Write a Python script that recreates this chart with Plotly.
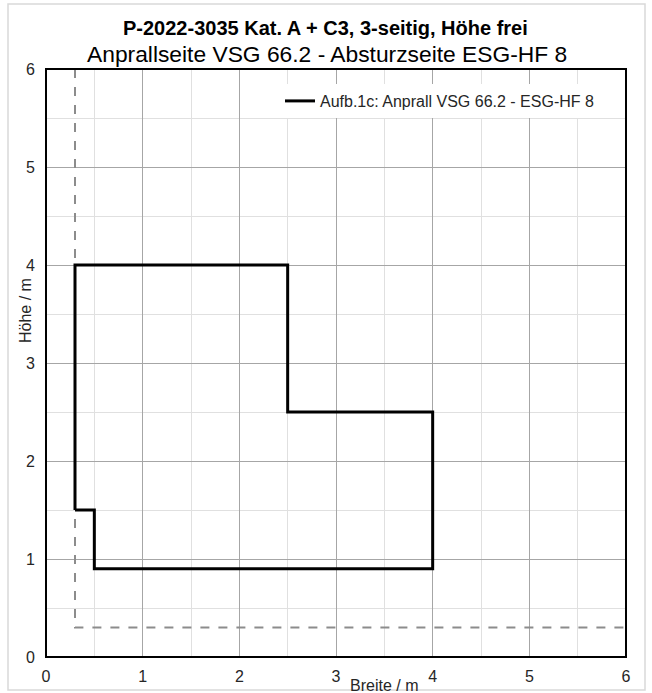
import plotly.graph_objects as go

# Data
profile_x = [0.3, 0.3, 2.5, 2.5, 4.0, 4.0, 0.5, 0.5, 0.3]
profile_y = [1.5, 4.0, 4.0, 2.5, 2.5, 0.9, 0.9, 1.5, 1.5]
limit_x = [0.3, 0.3, 6.0]
limit_y = [6.0, 0.3, 0.3]
series_name = "Aufb.1c: Anprall VSG 66.2 - ESG-HF 8"
title_main = "P-2022-3035 Kat. A + C3, 3-seitig, Höhe frei"
title_sub = "Anprallseite VSG 66.2 - Absturzseite ESG-HF 8"
x_title = "Breite / m"
y_title = "Höhe / m"

fig = go.Figure()
fig.add_trace(go.Scatter(x=limit_x, y=limit_y, mode="lines", showlegend=False,
                         line=dict(color="#8c8c8c", width=2, dash="dash"), hoverinfo="skip"))
fig.add_trace(go.Scatter(x=profile_x, y=profile_y, mode="lines", name=series_name,
                         line=dict(color="black", width=3)))

W, H = 652, 693
ml, mr, mt, mb = 46, 26, 69, 36
pw, ph = W - ml - mr, H - mt - mb

def px(x):
    return (x - ml) / pw

def py(y):
    return (H - mb - y) / ph

fig.update_layout(
    width=W, height=H,
    margin=dict(l=ml, r=mr, t=mt, b=mb, autoexpand=False),
    paper_bgcolor="white", plot_bgcolor="white",
    font=dict(family="Liberation Sans, Arial, sans-serif", color="#262626", size=16),
    showlegend=True,
    legend=dict(x=px(599), xanchor="right", y=py(84), yanchor="top",
                bgcolor="white", borderwidth=0, font=dict(size=16, color="#262626"),
                itemwidth=30),
    annotations=[
        dict(text="<b>" + title_main + "</b>", x=px(325), xref="paper", y=py(28), yref="paper",
             showarrow=False, font=dict(size=20, color="black"), xanchor="center", yanchor="middle"),
        dict(text=title_sub, x=px(327), xref="paper", y=py(54), yref="paper",
             showarrow=False, font=dict(size=22.8, color="black"), xanchor="center", yanchor="middle"),
        dict(text=x_title, x=px(384), xref="paper", y=py(686), yref="paper",
             showarrow=False, font=dict(size=16, color="#262626"), xanchor="center", yanchor="middle"),
        dict(text=y_title, x=px(25), xref="paper", y=py(311), yref="paper", textangle=-90,
             showarrow=False, font=dict(size=16, color="#262626"), xanchor="center", yanchor="middle"),
    ],
    shapes=[
        dict(type="rect", xref="paper", yref="paper", x0=px(8), x1=px(645), y0=py(4), y1=py(690),
             line=dict(color="#d9d9d9", width=1.5), layer="below"),
        dict(type="rect", xref="paper", yref="paper", x0=0, x1=1, y0=0, y1=1,
             line=dict(color="black", width=2), layer="above"),
    ],
)
fig.update_xaxes(range=[0, 6], dtick=1, showgrid=True, gridcolor="#a6a6a6", gridwidth=1,
                 minor=dict(dtick=0.5, showgrid=True, gridcolor="#e0e0e0", gridwidth=1),
                 zeroline=False, showline=False, ticks="", ticklabelstandoff=8, automargin=False,
                 tickfont=dict(size=16, color="#262626"), fixedrange=True)
fig.update_yaxes(range=[0, 6], dtick=1, showgrid=True, gridcolor="#a6a6a6", gridwidth=1,
                 minor=dict(dtick=0.5, showgrid=True, gridcolor="#e0e0e0", gridwidth=1),
                 zeroline=False, showline=False, ticks="", ticklabelstandoff=10, automargin=False,
                 tickfont=dict(size=16, color="#262626"), fixedrange=True)

fig.write_html("out.html")
